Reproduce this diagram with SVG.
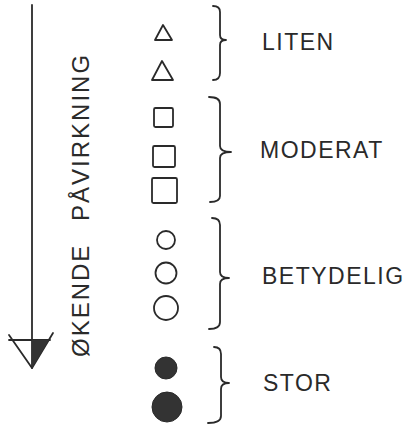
<svg xmlns="http://www.w3.org/2000/svg" width="413" height="429" viewBox="0 0 413 429">
<style>
.ln{fill:none;stroke:#2a2a2a;stroke-width:1.8;stroke-linecap:round;stroke-linejoin:round}
.br{fill:none;stroke:#2a2a2a;stroke-width:1.8;stroke-linecap:round;stroke-linejoin:round}
.dot{fill:#333;stroke:#2a2a2a;stroke-width:1}
.lbl{font-family:"Liberation Sans",Arial,sans-serif;font-size:23px;fill:#2a2a2a;letter-spacing:1.5px}
.ax{font-family:"Liberation Sans",Arial,sans-serif;font-size:24px;fill:#2a2a2a;letter-spacing:2px;word-spacing:14px}
</style>
<rect width="413" height="429" fill="#fff"/>
<g id="connectors">
<g id="arrow">
<line class="ln" x1="32" y1="5" x2="32" y2="368"/>
<line class="ln" x1="9" y1="340" x2="50" y2="340"/>
<polyline class="ln" points="9,335 32,368 53,333"/>
<polygon points="32,340 49,340 32,368" fill="#333"/>
</g>
</g>
<text class="ax" transform="translate(89,357) rotate(-90)">ØKENDE PÅVIRKNING</text>
<g id="liten">
<polygon class="ln" points="163,25 172,40 155,40"/>
<polygon class="ln" points="162,61 173,80 152,80"/>
<path class="br" d="M213,6 Q220,6 220,12 L220,35 Q220,40 226,40 Q220,40 220,45 L220,73 Q220,80 213,80"/>
<text class="lbl" x="262" y="50">LITEN</text>
</g>
<g id="moderat">
<rect class="ln" x="154" y="108" width="19" height="19" rx="1.5"/>
<rect class="ln" x="153" y="146" width="22" height="21" rx="1.5"/>
<rect class="ln" x="152" y="178" width="25" height="25" rx="1.5"/>
<path class="br" d="M209,97 Q220,97 220,104 L220,146 Q220,152 231,152 Q220,152 220,158 L220,196 Q220,202 210,202"/>
<text class="lbl" x="260" y="158">MODERAT</text>
</g>
<g id="betydelig">
<circle class="ln" cx="166" cy="240" r="9"/>
<circle class="ln" cx="166" cy="273" r="10.5"/>
<circle class="ln" cx="166" cy="308" r="12"/>
<path class="br" d="M212,218 Q220,218 220,225 L220,272 Q220,278 229,278 Q220,278 220,284 L220,322 Q220,329 209,329"/>
<text class="lbl" x="262" y="284">BETYDELIG</text>
</g>
<g id="stor">
<circle class="dot" cx="166" cy="368" r="11"/>
<circle class="dot" cx="167" cy="407" r="15"/>
<path class="br" d="M214,347 Q221,347 221,354 L221,377 Q221,383 229,383 Q221,383 221,389 L221,416 Q221,423 208,423"/>
<text class="lbl" x="263" y="391">STOR</text>
</g>
</svg>
